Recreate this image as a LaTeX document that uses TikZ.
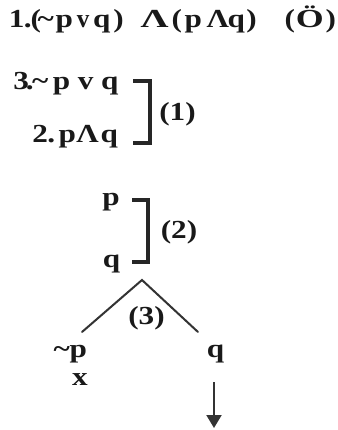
\documentclass[tikz,border=0pt]{standalone}
\usepackage{fontspec}
\setmainfont{Liberation Serif}[FakeStretch=1.2]
\usepackage{graphicx}
\usetikzlibrary{arrows.meta}
% place a glyph centred at #1 pt from the start of its text
\newcommand\g[2]{\rlap{\hspace{#1pt}\makebox[0pt]{#2}}}
\begin{document}
\begin{tikzpicture}[x=1pt,y=-1pt,
  txt/.style={inner sep=0pt,anchor=base west,text=black!90,font=\fontsize{26}{30}\selectfont\bfseries},
  txtc/.style={inner sep=0pt,anchor=base,text=black!90,font=\fontsize{26}{30}\selectfont\bfseries},
  lbl/.style={inner sep=0pt,anchor=center,text=black!90,font=\fontsize{26}{30}\selectfont\bfseries},
  brk/.style={line width=3.5pt,black!85,line cap=butt,line join=miter},
  branch/.style={line width=2pt,black!80,line cap=round},
  arr/.style={line width=2pt,black!80,-{Triangle[width=15pt,length=13pt]}}]
\useasboundingbox[fill=white] (0,0) rectangle (337,430);
% top line
\node[txt] (l1a) at (10,28) {\g{6}{1}\g{17}{.}\g{25}{(}\g{35}{\textasciitilde}\g{53.5}{p}\g{72.5}{\scalebox{0.8}[1]{v}}\g{91}{q}\g{108}{)}\hspace{113pt}};
\node[txt] (l1b) at (140,28) {\g{14}{\scalebox{1.25}[1]{Λ}}\g{36}{(}\g{52.5}{p}\g{77}{Λ}\g{95.5}{q}\g{111}{)}\hspace{117pt}};
\node[txt] (l1c) at (285,28) {\g{4}{(}\g{24}{\scalebox{1.15}[1]{Ö}}\g{45}{)}\hspace{50pt}};
% rows 3 and 2
\node[txt] (l3) at (15,90) {\g{5.5}{3}\g{14}{.}\g{24.5}{\textasciitilde}\g{46}{p}\g{70}{v}\g{94}{q}\hspace{103pt}};
\node[txt] (l2) at (33,143) {\g{6.5}{2}\g{17.5}{.}\g{33.5}{p}\g{54}{Λ}\g{75.5}{q}\hspace{84pt}};
\coordinate (b1a) at (133,81);
\coordinate (b1b) at (150,81);
\coordinate (b1c) at (150,143);
\coordinate (b1d) at (133,143);
\draw[brk] (b1a) -- (b1b) -- (b1c) -- (b1d);
\node[lbl] (k1) at (177.5,114) {(1)};
% p, q
\node[txtc] (mp) at (111,205) {p};
\node[txtc] (mq) at (111.5,267) {q};
\coordinate (b2a) at (132,200);
\coordinate (b2b) at (148,200);
\coordinate (b2c) at (148,262);
\coordinate (b2d) at (132,262);
\draw[brk] (b2a) -- (b2b) -- (b2c) -- (b2d);
\node[lbl] (k2) at (179,232) {(2)};
% tree
\coordinate (apex) at (142,280);
\coordinate (lend) at (82,332);
\coordinate (rend) at (198,332);
\draw[branch] (lend) -- (apex) -- (rend);
\node[lbl] (k3) at (146.5,318) {(3)};
\node[txt] (np) at (55,357) {\g{6}{\textasciitilde}\g{22.5}{p}\hspace{32pt}};
\node[txtc] (nx) at (80,385) {x};
\node[txtc] (nq) at (215.5,357) {q};
\coordinate (as) at (214,382);
\coordinate (ae) at (214,428);
\draw[arr] (as) -- (ae);
\end{tikzpicture}
\end{document}
